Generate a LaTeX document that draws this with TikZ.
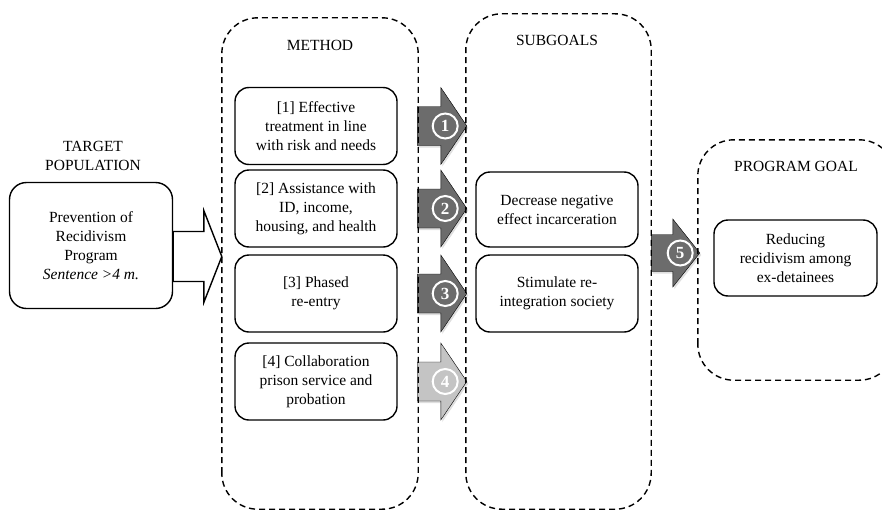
\documentclass[tikz,border=0pt]{standalone}
\usepackage{fontspec}
\setmainfont{Liberation Serif}
\usepackage{xcolor}
\usetikzlibrary{positioning,calc,shadows}

\definecolor{arrowdark}{RGB}{108,108,108}
\definecolor{arrowlight}{RGB}{196,196,196}

% fat block arrow: options, from, to, shaft half width, head half width, head length
\newcommand{\fatarrow}[6]{%
  \draw[#1] ($(#2)+(0,#4)$) -- ($(#3)+(-#6,#4)$) -- ($(#3)+(-#6,#5)$) -- (#3)
    -- ($(#3)+(-#6,-#5)$) -- ($(#3)+(-#6,-#4)$) -- ($(#2)+(0,-#4)$) -- cycle;}

\begin{document}
\begin{tikzpicture}[x=1pt, y=-1pt, font=\rmfamily\fontsize{15.5}{19}\selectfont,
    stage box/.style={draw, line width=1.4pt, rounded corners=14pt, minimum width=162pt, minimum height=77pt, align=center, inner sep=2pt},
    group box/.style={draw, dash pattern=on 6pt off 4pt, line width=1.4pt, rounded corners=36pt},
    grey arrow/.style={fill=#1, drop shadow={shadow xshift=1.5pt, shadow yshift=-2pt, opacity=0.25}},
    step num/.style={circle, draw=white, line width=2pt, text=white, font=\rmfamily\bfseries\fontsize{17}{17}\selectfont, inner sep=0pt, minimum size=25pt}]
    \clip (0,0) rectangle (882,511);

    % dashed groups
    \node[minimum width=196pt, minimum height=491pt] (method) at (320,263.5) {};
    \node[minimum width=185pt, minimum height=495pt] (subgoals) at (558.5,261.5) {};
    \node[minimum width=197pt, minimum height=240pt] (goalgrp) at (796.5,260) {};

    % boxes
    \node[stage box, minimum width=163pt, minimum height=126pt, rounded corners=17pt] (target) at (91,245.5)
        {Prevention of\\Recidivism\\Program\\\textit{Sentence >4 m.}};
    \node[stage box] (m1) at (316,126) {[1] Effective\\treatment in line\\with risk and needs};
    \node[stage box] (m2) at (316,208.5) {[2] Assistance with\\ID, income,\\housing, and health};
    \node[stage box] (m3) at (316,293.5) {[3] Phased\\re-entry};
    \node[stage box] (m4) at (316,381.5) {[4] Collaboration\\prison service and\\probation};
    \node[stage box, minimum height=75pt] (s1) at (557,209.5) {Decrease negative\\effect incarceration};
    \node[stage box] (s2) at (557,293.5) {Stimulate re-\\integration society};
    \node[stage box, minimum height=76pt, minimum width=163pt] (goal) at (795.5,258) {Reducing\\recidivism among\\ex-detainees};

    % arrows
    \coordinate (tin) at ($(target.east)+(0,11)$);
    \fatarrow{draw, fill=white, line width=1.4pt}{tin}{method.west |- tin}{25}{46}{18}

    \foreach \i/\c in {1/arrowdark,2/arrowdark,3/arrowdark,4/arrowlight}{
        \fatarrow{grey arrow=\c}{$(method.east |- m\i.east)+(-1,0)$}{$(subgoals.west |- m\i.east)+(1,0)$}{19.5}{38.5}{26}
        \node[step num, fill=\c] (n\i) at ($(method.east |- m\i.east)+(27,0)$) {\i};
    }

    \coordinate (gin) at ($(goal.west)+(0,-5)$);
    \fatarrow{grey arrow=arrowdark}{subgoals.east |- gin}{$(goalgrp.west |- gin)+(2,0)$}{18.5}{34}{27}
    \node[step num, fill=arrowdark] (n5) at ($(subgoals.east |- gin)+(29,0)$) {5};

    % dashed outlines on top
    \foreach \g in {method,subgoals,goalgrp}
        \draw[group box] (\g.south west) rectangle (\g.north east);

    \node[align=center] (targetlbl) at (93,156) {TARGET\\POPULATION};
    \node (methodlbl) at (320,45) {METHOD};
    \node (subgoalslbl) at (557,40) {SUBGOALS};
    \node (goallbl) at (796,166) {PROGRAM GOAL};
\end{tikzpicture}
\end{document}
